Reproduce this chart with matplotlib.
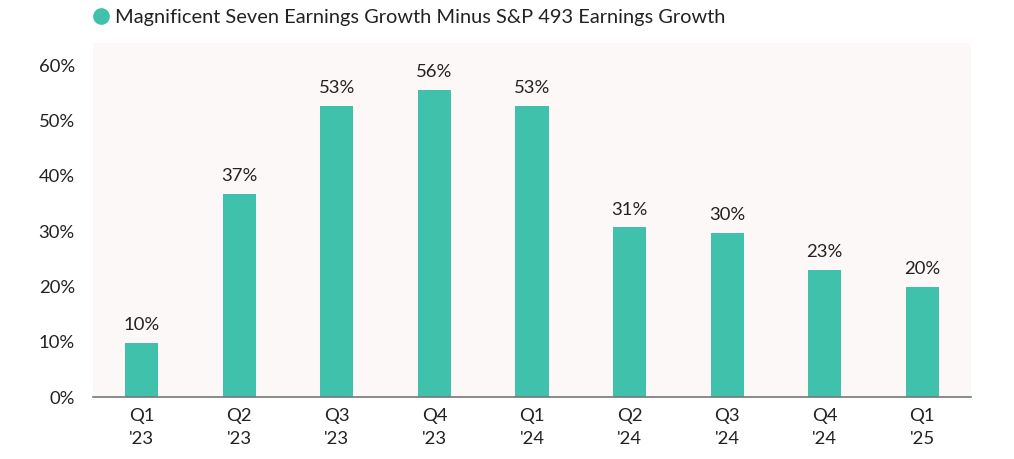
import matplotlib
matplotlib.use("Agg")
import matplotlib.pyplot as plt
from matplotlib.lines import Line2D

categories = ["Q1\n'23", "Q2\n'23", "Q3\n'23", "Q4\n'23", "Q1\n'24", "Q2\n'24", "Q3\n'24", "Q4\n'24", "Q1\n'25"]
values = [9.8, 36.7, 52.6, 55.5, 52.6, 30.7, 29.7, 23.0, 19.9]
labels = ["10%", "37%", "53%", "56%", "53%", "31%", "30%", "23%", "20%"]
yticks = [0, 10, 20, 30, 40, 50, 60]
series_name = "Magnificent Seven Earnings Growth Minus S&P 493 Earnings Growth"

plt.rcParams['font.family'] = ['Lato', 'DejaVu Sans']
color = "#40C1AC"
txt = "#222222"

fig = plt.figure(figsize=(10.14, 4.59), dpi=100)
ax = fig.add_axes([0.0917, 0.135, 0.866, 0.771])
ax.set_facecolor("#FBF8F7")

x = list(range(len(categories)))
bars = ax.bar(x, values, width=0.34, color=color, zorder=2)
for xi, v, lab in zip(x, values, labels):
    ax.annotate(lab, (xi, v), xytext=(0, 7), textcoords="offset points",
                ha="center", va="bottom", fontsize=13.3, color=txt)

ax.set_xlim(-0.5, 8.5)
ax.set_ylim(0, 64)
ax.set_yticks(yticks)
ax.set_yticklabels([f"{t}%" for t in yticks])
ax.set_xticks(x)
ax.set_xticklabels(categories, linespacing=1.55)
ax.tick_params(axis="both", length=0, labelsize=13.3, colors=txt)
ax.tick_params(axis="y", pad=13)
ax.tick_params(axis="x", pad=8)
for s in ["top", "right", "left"]:
    ax.spines[s].set_visible(False)
ax.spines["bottom"].set_color("#777777")
ax.spines["bottom"].set_linewidth(1.2)

handle = Line2D([], [], marker="o", linestyle="none", markersize=11,
                markerfacecolor=color, markeredgecolor=color)
fig.legend([handle], [series_name], loc="center left",
           bbox_to_anchor=(0.084, 0.962), frameon=False, fontsize=14.4,
           handlelength=0.8, handletextpad=0.3, borderaxespad=0, labelcolor=txt)

fig.savefig("out.png", dpi=100, facecolor="white")
